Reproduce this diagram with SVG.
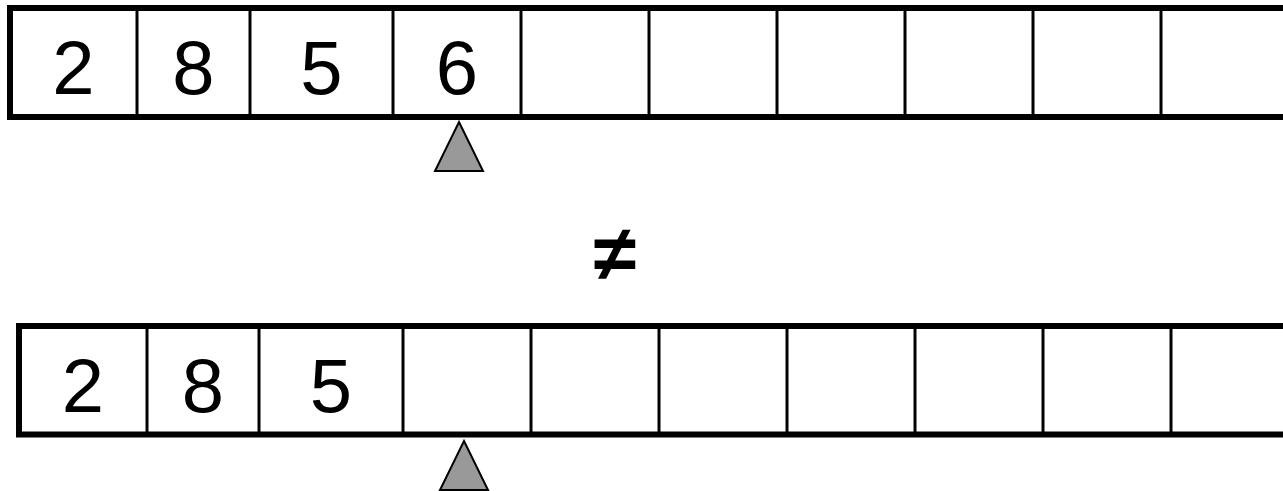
<svg xmlns="http://www.w3.org/2000/svg" width="1283" height="491" viewBox="0 0 1283 491">
<style>
.outer{fill:none;stroke:#000;stroke-width:6}
.div{stroke:#000;stroke-width:3}
.num{font-family:"Liberation Sans",Arial,sans-serif;font-size:76px;fill:#000;text-anchor:middle}
.ptr{fill:#999;stroke:#000;stroke-width:2;stroke-linejoin:miter}
</style>
<rect width="1283" height="491" fill="#fff"/>
<g id="array-top">
<path class="outer" d="M1290 8 H10 V117 H1290"/>
<g class="div">
<line x1="137" y1="8" x2="137" y2="117"/>
<line x1="250" y1="8" x2="250" y2="117"/>
<line x1="393" y1="8" x2="393" y2="117"/>
<line x1="521" y1="8" x2="521" y2="117"/>
<line x1="649" y1="8" x2="649" y2="117"/>
<line x1="777" y1="8" x2="777" y2="117"/>
<line x1="905" y1="8" x2="905" y2="117"/>
<line x1="1033" y1="8" x2="1033" y2="117"/>
<line x1="1161" y1="8" x2="1161" y2="117"/>
</g>
<text class="num" x="73.5" y="94">2</text>
<text class="num" x="193.5" y="94">8</text>
<text class="num" x="321.5" y="94">5</text>
<text class="num" x="457" y="94">6</text>
</g>
<g id="pointer-top">
<polygon class="ptr" points="459,122 483,171 435,171"/>
</g>
<g id="not-equal">
<text x="615" y="280" style="font-family:'Liberation Sans',Arial,sans-serif;font-size:78px;font-weight:bold;text-anchor:middle">≠</text>
</g>
<g id="array-bottom">
<path class="outer" d="M1290 326 H19 V434.5 H1290"/>
<g class="div">
<line x1="147" y1="326" x2="147" y2="434"/>
<line x1="259" y1="326" x2="259" y2="434"/>
<line x1="403" y1="326" x2="403" y2="434"/>
<line x1="531" y1="326" x2="531" y2="434"/>
<line x1="659" y1="326" x2="659" y2="434"/>
<line x1="787" y1="326" x2="787" y2="434"/>
<line x1="915" y1="326" x2="915" y2="434"/>
<line x1="1043" y1="326" x2="1043" y2="434"/>
<line x1="1171" y1="326" x2="1171" y2="434"/>
</g>
<text class="num" x="83" y="412">2</text>
<text class="num" x="203" y="412">8</text>
<text class="num" x="331" y="412">5</text>
</g>
<g id="pointer-bottom">
<polygon class="ptr" points="464,441 488,490 440,490"/>
</g>
<g id="connectors"></g>
</svg>
